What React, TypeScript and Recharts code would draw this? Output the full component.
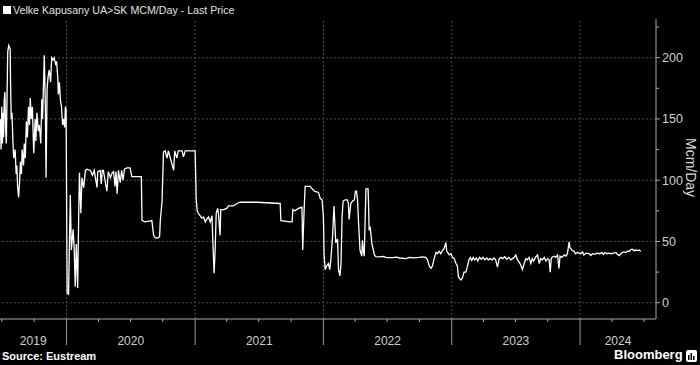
import React from 'react';
import { LineChart, Line, XAxis, YAxis, ReferenceLine } from 'recharts';

// ---- data ----
const dates: string[] = [
  // 2019
  '2019-06-27','2019-06-29','2019-07-01','2019-07-03','2019-07-05','2019-07-06','2019-07-08','2019-07-10','2019-07-12','2019-07-14',
  '2019-07-18','2019-07-21','2019-07-25','2019-07-26','2019-07-28','2019-07-30','2019-08-02','2019-08-04','2019-08-08','2019-08-11',
  '2019-08-13','2019-08-15','2019-08-18','2019-08-21','2019-08-23','2019-08-26','2019-08-28','2019-09-01','2019-09-03','2019-09-06',
  '2019-09-09','2019-09-12','2019-09-15','2019-09-18','2019-09-20','2019-09-23','2019-09-26','2019-09-30','2019-10-04','2019-10-06',
  '2019-10-09','2019-10-13','2019-10-16','2019-10-20','2019-10-23','2019-10-25','2019-10-30','2019-11-02','2019-11-04','2019-11-07',
  '2019-11-10','2019-11-13','2019-11-17','2019-11-20','2019-11-24','2019-11-27','2019-12-01','2019-12-04','2019-12-07','2019-12-09',
  '2019-12-12','2019-12-15','2019-12-18','2019-12-21','2019-12-24','2019-12-27','2019-12-29','2019-12-31',
  // 2020
  '2020-01-03','2020-01-07','2020-01-12','2020-01-15','2020-01-20','2020-01-23','2020-01-26','2020-01-29','2020-02-02','2020-02-05',
  '2020-02-07','2020-02-11','2020-02-14','2020-02-19','2020-02-24','2020-02-29','2020-03-09','2020-03-15','2020-03-20','2020-03-28',
  '2020-03-30','2020-04-06','2020-04-09','2020-04-12','2020-04-15','2020-04-25','2020-04-29','2020-05-05','2020-05-10','2020-05-14',
  '2020-05-18','2020-05-21','2020-05-24','2020-05-28','2020-06-02','2020-06-06','2020-06-10','2020-06-14','2020-06-21','2020-06-30',
  '2020-07-05','2020-07-15','2020-08-01','2020-08-03','2020-08-12','2020-08-31','2020-09-05','2020-09-10','2020-09-18','2020-09-22',
  '2020-09-24','2020-09-29','2020-10-03','2020-10-08','2020-10-13','2020-10-17','2020-11-01','2020-11-04','2020-11-10','2020-11-14',
  '2020-11-25','2020-11-29','2020-12-04','2020-12-18','2021-01-01',
  // 2021
  '2021-01-03','2021-01-04','2021-01-07','2021-01-10','2021-01-15','2021-01-20','2021-01-25','2021-01-30','2021-02-03','2021-02-08',
  '2021-02-13','2021-02-18','2021-02-21','2021-02-24','2021-02-27','2021-03-02','2021-03-06','2021-03-08','2021-03-13','2021-03-15',
  '2021-03-23','2021-04-01','2021-04-06','2021-04-20','2021-04-30','2021-05-09','2021-06-07','2021-06-26','2021-08-31','2021-09-02',
  '2021-09-28','2021-10-04','2021-10-06','2021-10-12','2021-10-22','2021-11-01','2021-11-03','2021-11-07','2021-11-10','2021-11-24',
  '2021-12-06','2021-12-18','2021-12-23','2021-12-28','2022-01-01',
  // 2022
  '2022-01-03','2022-01-06','2022-01-10','2022-01-15','2022-01-19','2022-01-22','2022-01-27','2022-01-31','2022-02-03','2022-02-05',
  '2022-02-10','2022-02-13','2022-02-17','2022-02-20','2022-02-23','2022-02-26','2022-03-04','2022-03-10','2022-03-13','2022-03-15',
  '2022-03-20','2022-03-25','2022-03-30','2022-04-02','2022-04-05','2022-04-08','2022-04-11','2022-04-15','2022-04-20','2022-04-22',
  '2022-04-24','2022-04-27','2022-04-30','2022-05-02','2022-05-08','2022-05-09','2022-05-11','2022-05-14','2022-05-19','2022-05-23',
  '2022-05-26','2022-05-30','2022-06-09','2022-06-20','2022-06-28','2022-07-06','2022-07-16','2022-07-28','2022-08-05','2022-08-14',
  '2022-08-24','2022-09-02','2022-09-15','2022-09-30','2022-10-10','2022-10-19','2022-10-24','2022-10-29','2022-11-03','2022-11-07',
  '2022-11-12','2022-11-17','2022-11-21','2022-11-26','2022-12-01','2022-12-06','2022-12-10','2022-12-15','2022-12-18','2022-12-25',
  '2022-12-30',
  // 2023
  '2023-01-03','2023-01-08','2023-01-13','2023-01-17','2023-01-20','2023-01-27','2023-01-31','2023-02-05','2023-02-10','2023-02-14',
  '2023-02-19','2023-02-23','2023-02-27','2023-03-03','2023-03-07','2023-03-12','2023-03-16','2023-03-21','2023-03-26','2023-03-31',
  '2023-04-05','2023-04-10','2023-04-15','2023-04-20','2023-04-26','2023-05-01','2023-05-06','2023-05-11','2023-05-16','2023-05-21',
  '2023-05-26','2023-06-01','2023-06-06','2023-06-12','2023-06-18','2023-06-23','2023-06-28','2023-07-02','2023-07-07','2023-07-12',
  '2023-07-16','2023-07-21','2023-07-26','2023-07-31','2023-08-04','2023-08-09','2023-08-14','2023-08-18','2023-08-22','2023-08-27',
  '2023-09-02','2023-09-07','2023-09-11','2023-09-16','2023-09-21','2023-09-26','2023-10-01','2023-10-05','2023-10-08','2023-10-11',
  '2023-10-13','2023-10-19','2023-10-24','2023-10-29','2023-11-02','2023-11-05','2023-11-10','2023-11-17','2023-11-22','2023-11-26',
  '2023-12-01','2023-12-03','2023-12-06','2023-12-10','2023-12-15','2023-12-19','2023-12-24',
  // 2024
  '2024-01-03','2024-01-08','2024-01-12','2024-01-18','2024-01-27','2024-02-01','2024-02-05','2024-02-12','2024-02-18','2024-02-25',
  '2024-03-04','2024-03-08','2024-03-12','2024-03-18','2024-03-23','2024-03-30','2024-04-05','2024-04-12','2024-04-16','2024-04-21',
  '2024-04-26','2024-04-30','2024-05-05','2024-05-10','2024-05-15','2024-05-20','2024-05-25','2024-05-30','2024-06-03','2024-06-08',
  '2024-06-12','2024-06-17','2024-06-22',
];

const values: number[] = [
  // 2019
  150,125,160,130,155,135,165,172,140,130,
  205,210,207,180,150,155,130,118,125,105,
  112,95,86,100,115,105,125,112,130,118,
  148,135,160,145,167,150,160,122,150,132,
  155,140,145,130,166,150,202,160,102,175,
  185,190,180,200,198,200,195,197,185,170,
  180,165,160,145,150,143,160,158,
  // 2020
  8,7,88,43,60,44,13,48,12,75,
  106,73,102,94,108,109,108,104,108,94,
  107,108,97,108,108,91,107,102,106,107,
  95,107,89,108,98,108,100,109,110,110,
  103,103,103,67,66,67,55,53,53,54,
  67,83,123,124,118,124,108,124,118,124,
  124,119,124,124,124,
  // 2021
  100,85,75,73,71,69,70,66,68,70,
  66,71,46,24,43,73,77,74,55,76,
  76,77,79,79,81,82,82,82,81,67,
  66,66,76,75,77,78,43,75,95,95,
  91,90,85,84,70,
  // 2022
  38,27,30,32,27,35,54,79,62,49,
  52,27,22,32,70,83,84,84,81,68,
  81,83,84,91,91,84,65,43,38,51,
  43,38,72,93,93,84,59,62,48,43,
  39,37.6,37.4,37.8,37,36.8,36.8,37.2,36.5,36.3,
  36,37,36.6,37,37.4,37,35,30,28,30,
  36,41,40,42,40,43,44,49,42,39,
  40,
  // 2023
  37,36,32,30,21,18.5,20,25,25,29,
  35,37,34.5,37,35,36.5,34,37,35.5,37,
  35,36.5,35,36,35,36.5,35,29,36,37,
  36,37.5,35.5,37,35,36,37,39,35,33,
  31,27,32,36,35,37,32,36,34,37,
  39,32,36,35,37,34,36,35,25,36,
  37,38,37,39,28,38,37,39,38,40,
  49.6,45,44,42.5,42,40,41,
  // 2024
  40,41.5,39,40.5,40,38.5,40,39.5,40.5,40,
  41,39.5,41,40,40.5,40,40.5,41,39.5,38.5,
  40,41,41.5,41,42,42,43.5,43.5,42.5,43,
  42.5,43,42,
];

const yearLabels: string[] = ['2019', '2020', '2021', '2022', '2023', '2024'];
const yMajorTicks: number[] = [0, 50, 100, 150, 200];
const yMinorTicks: number[] = [25, 75, 125, 175, 225];

const titleText = 'Velke Kapusany UA>SK MCM/Day - Last Price';
const unitText = 'Mcm/Day';
const sourceText = 'Source: Eustream';
const brandText = 'Bloomberg';

// ---- layout ----
const W = 700;
const H = 365;
const M_TOP = 19;
const M_BOTTOM = 16;
const X_AXIS_H = 30;
const Y_AXIS_W = 44;
const PLOT_BOTTOM = H - M_BOTTOM - X_AXIS_H; // 319
const PLOT_RIGHT = W - Y_AXIS_W; // 656
const FONT = '"Liberation Sans", Arial, sans-serif';

const toTs = (s: string) => {
  const [y, m, d] = s.split('-').map(Number);
  return Date.UTC(y, m - 1, d);
};

const data = dates.map((d, i) => ({ t: toTs(d), v: values[i] }));

const X_START = toTs('2019-06-26');
const X_END = toTs('2024-08-04');

const quarterTicks: number[] = [];
for (let y = 2019; y <= 2024; y++) {
  for (const m of [0, 3, 6, 9]) {
    const t = Date.UTC(y, m, 1);
    if (t >= X_START && t <= X_END) quarterTicks.push(t);
  }
}
const yearStarts = yearLabels
  .map((y) => Date.UTC(Number(y), 0, 1))
  .filter((t) => t > X_START && t < X_END);

const labelMap = new Map<number, string>();
yearLabels.forEach((y) => {
  const s = Math.max(Date.UTC(Number(y), 0, 1), X_START);
  const e = Math.min(Date.UTC(Number(y) + 1, 0, 1), X_END);
  labelMap.set((s + e) / 2, y);
});
const xTicks = [...quarterTicks, ...Array.from(labelMap.keys())].sort((a, b) => a - b);

const XTick = (props: any) => {
  const { x, payload } = props;
  const v = payload.value as number;
  const lab = labelMap.get(v);
  if (lab) {
    return (
      <text x={x} y={PLOT_BOTTOM + 26} textAnchor="middle" fill="#cfcfcf" fontSize={12} fontFamily={FONT}>
        {lab}
      </text>
    );
  }
  const isYear = new Date(v).getUTCMonth() === 0;
  return (
    <line x1={x} x2={x} y1={PLOT_BOTTOM} y2={PLOT_BOTTOM + (isYear ? 26 : 3)} stroke={isYear ? '#9a9a9a' : '#aaaaaa'} strokeWidth={1} />
  );
};

const YTick = (props: any) => {
  const { y, payload } = props;
  const v = payload.value as number;
  const major = yMajorTicks.includes(v);
  return (
    <g>
      <line x1={PLOT_RIGHT} x2={PLOT_RIGHT + (major ? 4 : 3)} y1={y} y2={y} stroke="#aaaaaa" strokeWidth={1} />
      {major && (
        <text x={PLOT_RIGHT + 6} y={y} dy={4.5} fill="#cfcfcf" fontSize={12.5} fontFamily={FONT}>
          {v}
        </text>
      )}
    </g>
  );
};

export default function App() {
  return (
    <div style={{ position: 'absolute', left: 0, top: 0, width: W, height: H, background: '#000', overflow: 'hidden' }}>
      <LineChart width={W} height={H} data={data} margin={{ top: M_TOP, right: 0, bottom: M_BOTTOM, left: 0 }}>
        <XAxis
          dataKey="t"
          type="number"
          domain={[X_START, X_END]}
          allowDataOverflow
          ticks={xTicks}
          interval={0}
          tick={<XTick />}
          tickLine={false}
          axisLine={{ stroke: '#aaaaaa', strokeWidth: 1 }}
          height={X_AXIS_H}
        />
        <YAxis
          orientation="right"
          type="number"
          domain={[-13.3, 231.6]}
          allowDataOverflow
          ticks={[...yMajorTicks, ...yMinorTicks].sort((a, b) => a - b)}
          interval={0}
          tick={<YTick />}
          tickLine={false}
          axisLine={{ stroke: '#aaaaaa', strokeWidth: 1 }}
          width={Y_AXIS_W}
        />
        {yMajorTicks.map((v) => (
          <ReferenceLine key={'h' + v} y={v} stroke="#4d4d4d" strokeDasharray="2 2" strokeWidth={1} />
        ))}
        {yearStarts.map((t) => (
          <ReferenceLine key={'v' + t} x={t} stroke="#4d4d4d" strokeDasharray="2 2" strokeWidth={1} />
        ))}
        <Line
          type="linear"
          dataKey="v"
          stroke="#ffffff"
          strokeWidth={1.3}
          dot={false}
          isAnimationActive={false}
        />
      </LineChart>

      {/* title */}
      <div style={{ position: 'absolute', left: 3, top: 4, display: 'flex', alignItems: 'center', fontFamily: FONT, fontSize: 10.65, color: '#e0e0e0', whiteSpace: 'nowrap' }}>
        <span style={{ display: 'inline-block', width: 8, height: 8, background: '#ffffff', marginRight: 2 }} />
        <span>{titleText}</span>
      </div>

      {/* unit label */}
      <div style={{ position: 'absolute', left: 683, top: 138, writingMode: 'vertical-rl', fontFamily: FONT, fontSize: 14, color: '#d8d8d8', whiteSpace: 'nowrap', lineHeight: '16px' }}>
        {unitText}
      </div>

      {/* footer */}
      <div style={{ position: 'absolute', left: 2, top: 350, fontFamily: FONT, fontSize: 11, fontWeight: 'bold', color: '#ffffff', whiteSpace: 'nowrap' }}>
        {sourceText}
      </div>
      <div style={{ position: 'absolute', left: 614, top: 347, fontFamily: FONT, fontSize: 13, fontWeight: 'bold', color: '#ffffff', whiteSpace: 'nowrap' }}>
        {brandText}
      </div>
      <svg style={{ position: 'absolute', left: 686, top: 350 }} width={11} height={12}>
        <rect x={0} y={0} width={11} height={12} rx={2} fill="#ffffff" />
        <rect x={2} y={5} width={1.5} height={5} fill="#000" />
        <rect x={4.5} y={3} width={1.5} height={7} fill="#000" />
        <rect x={7} y={6} width={1.5} height={4} fill="#000" />
      </svg>
    </div>
  );
}
